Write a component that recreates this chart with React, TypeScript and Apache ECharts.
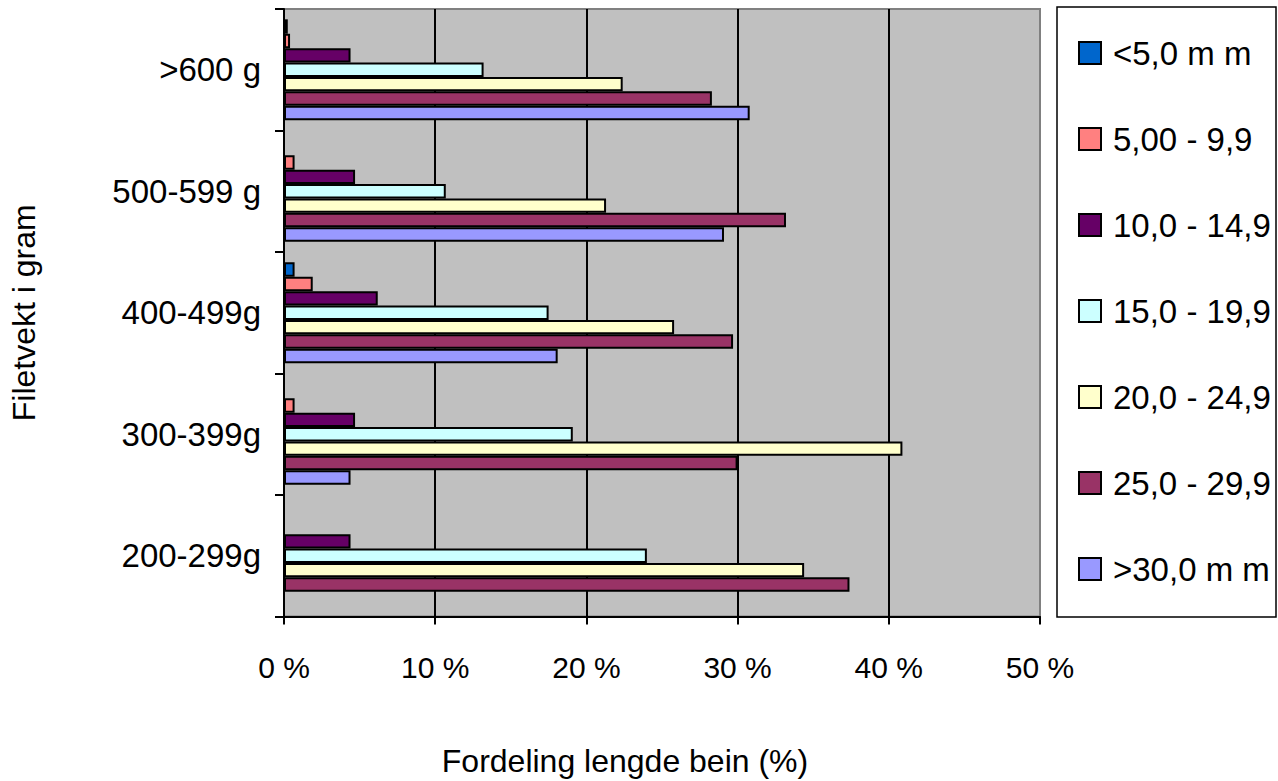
import React, { useEffect, useRef } from "react";
import * as echarts from "echarts";

const categories = ["200-299g", "300-399g", "400-499g", "500-599 g", ">600 g"];
const seriesNames = ["<5,0 m m", "5,00 - 9,9", "10,0 - 14,9", "15,0 - 19,9", "20,0 - 24,9", "25,0 - 29,9", ">30,0 m m"];
const seriesColors = ["#0066CC", "#FF8080", "#660066", "#CCFFFF", "#FFFFCC", "#993366", "#9999FF"];

const lt5 = [0, 0, 0.7, 0, 0.25];
const s5to10 = [0, 0.7, 1.9, 0.7, 0.4];
const s10to15 = [4.4, 4.7, 6.2, 4.7, 4.4];
const s15to20 = [24.0, 19.1, 17.5, 10.7, 13.2];
const s20to25 = [34.4, 40.9, 25.8, 21.3, 22.4];
const s25to30 = [37.4, 30.0, 29.7, 33.2, 28.3];
const gt30 = [0, 4.4, 18.1, 29.1, 30.8];

const seriesValues = [lt5, s5to10, s10to15, s15to20, s20to25, s25to30, gt30];

const xTicks = [0, 10, 20, 30, 40, 50];

const yTitle = "Filetvekt i gram";
const xTitle = "Fordeling lengde bein (%)";

const FONT = '"Liberation Sans", Arial, sans-serif';

export default function App() {
  const ref = useRef<HTMLDivElement>(null);

  useEffect(() => {
    if (!ref.current) return;
    const chart = echarts.init(ref.current, undefined, { renderer: "svg" });

    const series = seriesNames.map((name, i) => ({
      name,
      type: "bar",
      data: seriesValues[i].map((v) => (v === 0 ? null : v)),
      barGap: "0%",
      barCategoryGap: "17%",
      itemStyle: {
        color: seriesColors[i],
        borderColor: "#000",
        borderWidth: 2,
      },
    }));

    chart.setOption({
      animation: false,
      backgroundColor: "#ffffff",
      textStyle: { fontFamily: FONT },
      grid: {
        left: 272,
        top: 9,
        width: 768,
        height: 607.5,
        show: true,
        backgroundColor: "#C0C0C0",
        borderColor: "#808080",
        borderWidth: 2,
        containLabel: false,
      },
      xAxis: {
        type: "value",
        min: xTicks[0],
        max: xTicks[xTicks.length - 1],
        interval: 10,
        axisLine: { show: true, lineStyle: { color: "#000", width: 2 } },
        axisTick: { show: true, length: 8, lineStyle: { color: "#000", width: 2 } },
        axisLabel: {
          formatter: "{value} %",
          fontSize: 30,
          color: "#000",
          fontFamily: FONT,
          margin: 36,
        },
        splitLine: {
          show: true,
          lineStyle: { color: ["#000", "#000", "#000", "#000", "#000", "#808080"], width: 2 },
        },
      },
      yAxis: {
        type: "category",
        data: categories,
        name: yTitle,
        nameLocation: "middle",
        nameGap: 244,
        nameTextStyle: { fontSize: 32, color: "#000", fontFamily: FONT },
        axisLine: { show: true, lineStyle: { color: "#000", width: 2 } },
        axisTick: { show: true, length: 9, lineStyle: { color: "#000", width: 2 } },
        axisLabel: { fontSize: 33, color: "#000", fontFamily: FONT, margin: 23 },
        splitLine: { show: false },
      },
      legend: {
        data: seriesNames,
        orient: "vertical",
        left: 1078,
        top: 36,
        padding: 0,
        itemWidth: 22,
        itemHeight: 22,
        itemGap: 52,
        icon: "rect",
        textStyle: { fontSize: 33, lineHeight: 34, color: "#000", fontFamily: FONT, padding: [0, 0, 0, 7] },
      },
      graphic: [
        {
          type: "rect",
          z: -1,
          shape: { x: 1057, y: 7, width: 219, height: 610 },
          style: { fill: "#fff", stroke: "#000", lineWidth: 1.5 },
        },
        {
          type: "text",
          x: 625,
          y: 761,
          style: {
            text: xTitle,
            fontSize: 32,
            fill: "#000",
            fontFamily: FONT,
            textAlign: "center",
            textVerticalAlign: "middle",
          },
        },
      ],
      series,
    });

    return () => {
      chart.dispose();
    };
  }, []);

  return (
    <div
      ref={ref}
      style={{ position: "fixed", left: 0, top: 0, width: 1278, height: 781, background: "#fff" }}
    />
  );
}
